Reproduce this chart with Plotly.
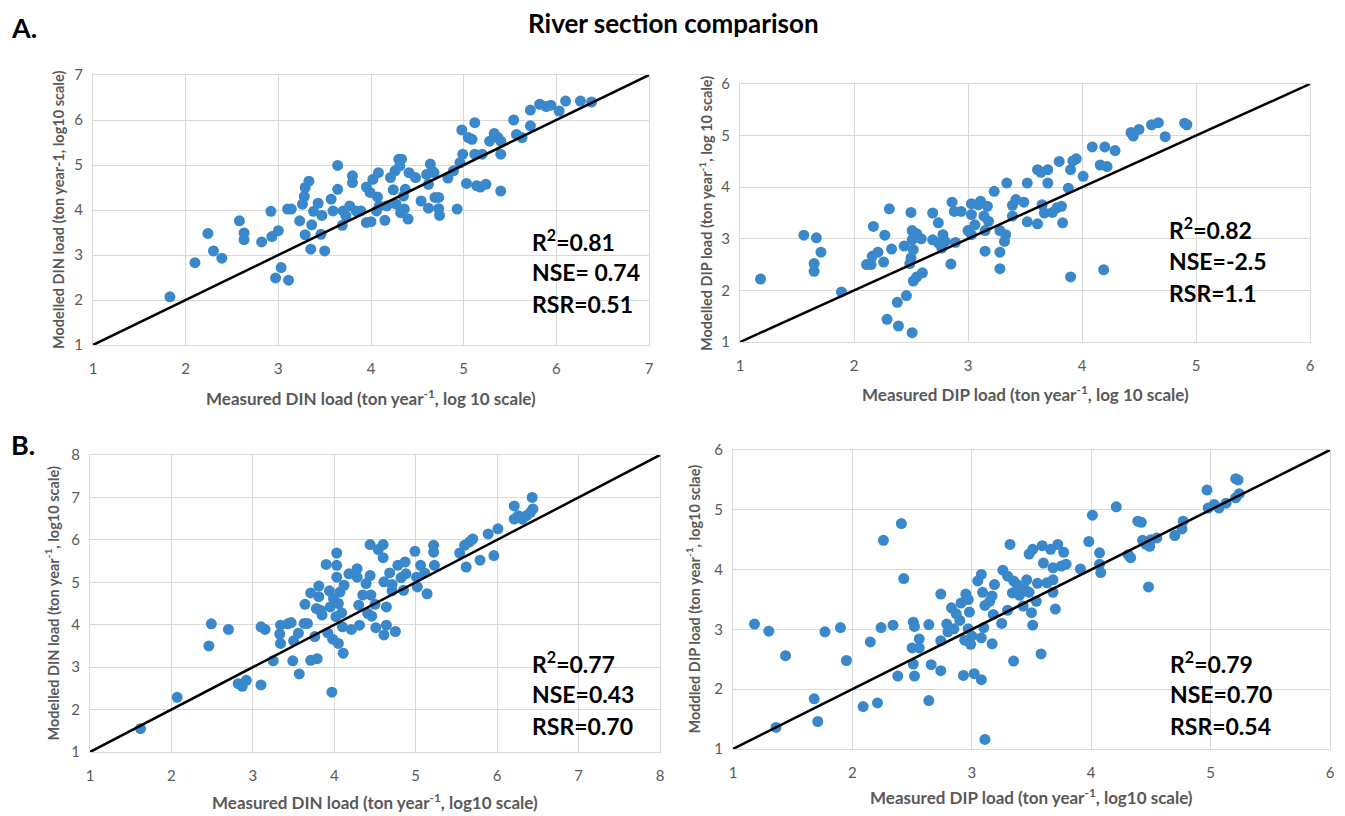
import plotly.graph_objects as go

# page body adds an 8 px offset; figure is sized so the visible window matches
OFF = 8
W, H = 1345 - OFF, 816 - OFF

# ---------------- data ----------------
a_din_meas = [1.83, 2.10, 2.24, 2.30, 2.39, 2.58, 2.63, 2.63, 2.82, 2.92, 2.93, 3.00, 2.97, 3.03, 3.11,
              3.10, 3.14, 3.23, 3.26, 3.28, 3.29, 3.33, 3.29, 3.35, 3.36, 3.38, 3.43, 3.46, 3.47, 3.50,
              3.57, 3.59, 3.64, 3.64, 3.69, 3.70, 3.73, 3.77, 3.80, 3.80, 3.84, 3.89, 3.95, 3.95, 3.99,
              4.00, 4.02, 4.07, 4.08, 4.09, 4.06, 4.15, 4.17, 4.21, 4.24, 4.26, 4.27, 4.30, 4.33, 4.31,
              4.32, 4.35, 4.36, 4.37, 4.40, 4.41, 4.48, 4.54, 4.60, 4.62, 4.62, 4.64, 4.66, 4.68, 4.69,
              4.73, 4.73, 4.74, 4.83, 4.89, 4.93, 4.96, 4.99, 4.98, 5.03, 5.05, 5.09, 5.12, 5.12, 5.14,
              5.18, 5.20, 5.24, 5.28, 5.33, 5.37, 5.40, 5.40, 5.40, 5.54, 5.57, 5.63, 5.72, 5.72, 5.82,
              5.89, 5.94, 6.03, 6.10, 6.26, 6.38]
a_din_mod = [2.07, 2.83, 3.48, 3.09, 2.93, 3.76, 3.49, 3.34, 3.29, 3.97, 3.41, 3.54, 2.49, 2.72, 2.44,
             4.02, 4.02, 3.76, 4.13, 4.30, 4.50, 4.64, 3.45, 3.13, 3.67, 3.97, 4.15, 3.46, 3.88, 3.09,
             4.24, 3.98, 4.99, 4.46, 3.66, 3.98, 3.87, 4.09, 4.61, 4.76, 3.98, 3.98, 4.51, 3.72, 4.39,
             3.74, 4.68, 4.29, 4.83, 4.09, 3.98, 3.77, 4.09, 4.72, 4.45, 4.87, 4.13, 5.13, 5.13, 4.98,
             3.94, 4.31, 4.02, 4.46, 3.80, 4.83, 4.72, 4.20, 4.79, 4.57, 4.04, 5.02, 4.87, 4.83, 4.28,
             4.28, 4.03, 3.88, 4.71, 4.87, 4.02, 5.05, 5.24, 5.78, 4.59, 5.61, 5.57, 5.94, 5.24, 4.54,
             4.51, 5.24, 4.57, 5.53, 5.70, 5.61, 5.53, 5.24, 4.42, 6.00, 5.68, 5.61, 6.22, 5.87, 6.35,
             6.30, 6.33, 6.20, 6.42, 6.42, 6.40]

a_dip_meas = [1.18, 1.56, 1.67, 1.65, 1.65, 1.71, 1.89, 2.11, 2.15, 2.16, 2.17, 2.21, 2.26, 2.27, 2.29,
              2.31, 2.33, 2.39, 2.38, 2.44, 2.46, 2.50, 2.51, 2.51, 2.52, 2.50, 2.49, 2.51, 2.52, 2.55,
              2.60, 2.55, 2.59, 2.69, 2.69, 2.74, 2.74, 2.77, 2.78, 2.80, 2.85, 2.86, 2.88, 2.89, 2.94,
              3.00, 3.03, 3.03, 3.03, 3.06, 3.09, 3.11, 3.14, 3.15, 3.15, 3.17, 3.18, 3.23, 3.28, 3.28,
              3.28, 3.32, 3.33, 3.34, 3.39, 3.39, 3.42, 3.49, 3.52, 3.52, 3.61, 3.61, 3.64, 3.65, 3.67,
              3.70, 3.70, 3.74, 3.78, 3.80, 3.82, 3.83, 3.88, 3.90, 3.90, 3.92, 3.95, 4.01, 4.09, 4.16,
              4.20, 4.19, 4.22, 4.29, 4.43, 4.45, 4.50, 4.61, 4.67, 4.73, 4.90, 4.92]
a_dip_mod = [2.22, 3.07, 3.02, 2.52, 2.37, 2.74, 1.97, 2.50, 2.50, 2.66, 3.24, 2.74, 2.55, 3.07, 1.44,
             3.58, 2.80, 1.31, 1.77, 2.86, 1.90, 3.51, 3.16, 2.98, 2.79, 2.63, 2.52, 1.18, 2.18, 2.26,
             2.34, 3.10, 3.00, 3.50, 2.98, 3.31, 2.92, 2.82, 3.08, 2.95, 2.51, 3.71, 3.53, 2.93, 3.53,
             3.16, 3.68, 3.47, 3.08, 3.27, 3.66, 3.73, 3.44, 2.76, 3.16, 3.63, 3.34, 3.92, 3.16, 2.74,
             2.42, 2.95, 3.08, 4.08, 3.44, 3.65, 3.76, 3.71, 4.08, 3.33, 4.34, 3.29, 4.29, 3.66, 3.50,
             4.34, 4.08, 3.51, 3.60, 4.50, 3.63, 3.31, 3.98, 2.26, 4.34, 4.51, 4.55, 4.21, 4.78, 4.43,
             4.78, 2.40, 4.40, 4.71, 5.06, 4.99, 5.12, 5.21, 5.25, 4.98, 5.24, 5.21]

b_din_meas = [1.62, 2.07, 2.46, 2.49, 2.70, 2.82, 2.87, 2.92, 3.10, 3.10, 3.15, 3.25, 3.33, 3.34, 3.34,
              3.43, 3.47, 3.49, 3.50, 3.57, 3.56, 3.64, 3.63, 3.67, 3.71, 3.71, 3.76, 3.78, 3.79, 3.81,
              3.81, 3.83, 3.85, 3.90, 3.92, 3.94, 3.95, 3.97, 3.98, 3.99, 4.02, 4.03, 4.03, 4.03, 4.05,
              4.05, 4.07, 4.09, 4.11, 4.10, 4.12, 4.18, 4.21, 4.28, 4.28, 4.30, 4.31, 4.35, 4.39, 4.41,
              4.44, 4.44, 4.45, 4.46, 4.51, 4.50, 4.54, 4.60, 4.60, 4.61, 4.61, 4.64, 4.64, 4.68, 4.71,
              4.71, 4.75, 4.78, 4.82, 4.85, 4.87, 4.88, 4.99, 5.01, 5.02, 5.06, 5.11, 5.14, 5.22, 5.22,
              5.23, 5.54, 5.60, 5.62, 5.66, 5.70, 5.79, 5.89, 5.96, 6.01, 6.21, 6.21, 6.26, 6.31, 6.36,
              6.41, 6.43, 6.44]
b_din_mod = [1.55, 2.29, 3.50, 4.02, 3.89, 2.61, 2.55, 2.69, 2.58, 3.95, 3.89, 3.15, 3.78, 3.99, 3.56,
             4.02, 4.05, 3.15, 3.62, 2.84, 3.80, 4.48, 4.03, 4.03, 4.75, 3.16, 3.72, 4.38, 3.20, 4.91,
             4.66, 4.34, 4.23, 5.42, 3.81, 4.80, 4.42, 2.41, 3.66, 4.62, 4.19, 5.69, 5.40, 5.12, 4.50,
             3.56, 4.77, 4.28, 3.33, 3.95, 4.93, 5.20, 3.89, 5.32, 5.12, 4.46, 3.99, 4.70, 4.97, 4.27,
             5.89, 5.16, 4.70, 4.20, 3.93, 4.48, 5.77, 5.89, 5.58, 5.01, 3.76, 4.42, 3.99, 5.22, 4.95,
             4.80, 3.84, 5.40, 5.11, 4.81, 5.48, 5.20, 5.73, 5.12, 4.89, 5.40, 5.22, 4.73, 5.87, 5.71,
             5.40, 5.69, 5.87, 5.36, 5.95, 6.02, 5.52, 6.14, 5.63, 6.26, 6.80, 6.49, 6.57, 6.49, 6.57,
             6.65, 7.00, 6.73]

b_dip_meas = [1.18, 1.30, 1.36, 1.44, 1.68, 1.71, 1.77, 1.90, 1.95, 2.09, 2.15, 2.21, 2.24, 2.26, 2.34,
              2.38, 2.41, 2.43, 2.50, 2.51, 2.51, 2.52, 2.52, 2.56, 2.56, 2.64, 2.64, 2.66, 2.74, 2.74,
              2.74, 2.79, 2.80, 2.83, 2.85, 2.87, 2.90, 2.91, 2.93, 2.94, 2.95, 2.97, 2.97, 2.98, 2.99,
              3.00, 3.02, 3.05, 3.08, 3.08, 3.08, 3.09, 3.10, 3.11, 3.11, 3.15, 3.17, 3.17, 3.18, 3.19,
              3.25, 3.26, 3.30, 3.30, 3.32, 3.34, 3.35, 3.35, 3.38, 3.40, 3.43, 3.44, 3.46, 3.48, 3.48,
              3.50, 3.51, 3.51, 3.54, 3.55, 3.58, 3.59, 3.60, 3.63, 3.66, 3.68, 3.68, 3.68, 3.70, 3.72,
              3.75, 3.77, 3.79, 3.91, 3.98, 4.01, 4.07, 4.07, 4.08, 4.21, 4.31, 4.33, 4.39, 4.42, 4.43,
              4.46, 4.48, 4.49, 4.50, 4.55, 4.70, 4.76, 4.77, 4.97, 4.98, 5.03, 5.07, 5.13, 5.21, 5.21,
              5.23, 5.24]
b_dip_mod = [3.09, 2.97, 1.36, 2.56, 1.84, 1.46, 2.96, 3.03, 2.48, 1.71, 2.79, 1.77, 3.03, 4.49, 3.07,
             2.22, 4.77, 3.85, 2.69, 3.12, 2.42, 2.22, 3.05, 2.84, 2.69, 3.08, 1.81, 2.41, 2.81, 3.59,
             2.31, 3.09, 2.96, 3.36, 3.01, 3.26, 3.15, 3.44, 2.23, 2.82, 3.59, 3.50, 3.01, 3.29, 2.75,
             2.89, 2.26, 3.81, 3.92, 2.16, 2.86, 3.62, 3.03, 1.16, 3.40, 3.47, 3.56, 2.76, 3.25, 3.75,
             3.10, 3.99, 3.89, 3.32, 4.42, 3.61, 3.81, 2.47, 3.75, 3.57, 3.39, 3.68, 3.83, 4.26, 3.62,
             3.28, 4.34, 3.07, 3.47, 3.77, 2.59, 4.40, 4.11, 3.78, 4.34, 4.03, 3.62, 3.83, 3.34, 4.42,
             4.06, 4.29, 4.09, 4.01, 4.47, 4.91, 4.28, 4.09, 3.95, 5.05, 4.25, 4.20, 4.81, 4.79, 4.49,
             4.42, 3.71, 4.39, 4.50, 4.53, 4.57, 4.68, 4.81, 5.33, 5.03, 5.09, 5.03, 5.11, 5.20, 5.52,
             5.50, 5.27]

panels = [
    dict(xm=a_din_meas, ym=a_din_mod, rng=[1, 7], box=(93, 649, 75, 345),
         xt="Measured DIN load (ton year<sup>-1</sup>, log 10 scale)", xty=397,
         yt="Modelled DIN load (ton year-1, log10 scale)", ytx=58,
         stats=["R<sup>2</sup>=0.81", "NSE= 0.74", "RSR=0.51"], sx=530, sy=[240, 272, 304]),
    dict(xm=a_dip_meas, ym=a_dip_mod, rng=[1, 6], box=(740, 1310, 84, 342),
         xt="Measured DIP load (ton year<sup>-1</sup>, log 10 scale)", xty=393,
         yt="Modelled DIP load (ton year<sup>-1</sup>, log 10 scale)", ytx=705,
         stats=["R<sup>2</sup>=0.82", "NSE=-2.5", "RSR=1.1"], sx=1167, sy=[228, 261, 293]),
    dict(xm=b_din_meas, ym=b_din_mod, rng=[1, 8], box=(90, 660, 455, 752),
         xt="Measured DIN load (ton year<sup>-1</sup>, log10 scale)", xty=801,
         yt="Modelled DIN load (ton year<sup>-1</sup>, log10 scale)", ytx=52,
         stats=["R<sup>2</sup>=0.77", "NSE=0.43", "RSR=0.70"], sx=530, sy=[662, 694, 726]),
    dict(xm=b_dip_meas, ym=b_dip_mod, rng=[1, 6], box=(733, 1330, 450, 749),
         xt="Measured DIP load (ton year<sup>-1</sup>, log10 scale)", xty=796,
         yt="Moddled DIP load (ton year<sup>-1</sup>, log10 sclae)", ytx=693,
         stats=["R<sup>2</sup>=0.79", "NSE=0.70", "RSR=0.54"], sx=1168, sy=[662, 694, 726]),
]

def px(x):
    return (x - OFF) / W

def py(y):
    return 1 - (y - OFF) / H

fig = go.Figure()
annotations = []
grey = "#595959"
font_family = "Lato, Open Sans, sans-serif"

for i, p in enumerate(panels, start=1):
    xa = "x" if i == 1 else f"x{i}"
    ya = "y" if i == 1 else f"y{i}"
    fig.add_trace(go.Scatter(x=p["xm"], y=p["ym"], mode="markers", xaxis=xa, yaxis=ya,
                             marker=dict(color="#3a88cc", size=11, line=dict(width=0)),
                             showlegend=False, cliponaxis=False))
    fig.add_trace(go.Scatter(x=p["rng"], y=p["rng"], mode="lines", xaxis=xa, yaxis=ya,
                             line=dict(color="black", width=2.5), showlegend=False))
    x0, x1, y0, y1 = p["box"]
    axcommon = dict(range=p["rng"], dtick=1, showgrid=True, gridcolor="#d9d9d9", gridwidth=1.3,
                    zeroline=False, showline=True, linecolor="#d9d9d9", linewidth=1.3, mirror=True,
                    ticks="", automargin=False,
                    tickfont=dict(size=15, color=grey, family=font_family), fixedrange=True)
    kx = "xaxis" if i == 1 else f"xaxis{i}"
    ky = "yaxis" if i == 1 else f"yaxis{i}"
    fig.layout[kx] = dict(domain=[px(x0), px(x1)], anchor=ya, ticklabelstandoff=10, **axcommon)
    fig.layout[ky] = dict(domain=[py(y1), py(y0)], anchor=xa, ticklabelstandoff=6, **axcommon)
    annotations.append(dict(x=px((x0 + x1) / 2), y=py(p["xty"]), xref="paper", yref="paper",
                            text=p["xt"], showarrow=False, xanchor="center", yanchor="middle",
                            font=dict(size=17, color=grey, family=font_family, weight="bold")))
    annotations.append(dict(x=px(p["ytx"]), y=py((y0 + y1) / 2), xref="paper", yref="paper",
                            text=p["yt"], showarrow=False, textangle=-90, xanchor="center",
                            yanchor="middle",
                            font=dict(size=14.5, color=grey, family=font_family, weight="bold")))
    for t, yy in zip(p["stats"], p["sy"]):
        annotations.append(dict(x=px(p["sx"]), y=py(yy), xref="paper", yref="paper", text=t,
                                showarrow=False, xanchor="left", yanchor="middle",
                                font=dict(size=23, color="black", family=font_family, weight="bold")))

annotations.append(dict(x=px(673), y=py(23), xref="paper", yref="paper",
                        text="River section comparison", showarrow=False,
                        xanchor="center", yanchor="middle",
                        font=dict(size=26, color="black", family=font_family, weight="bold")))
annotations.append(dict(x=px(9), y=py(27), xref="paper", yref="paper", text="A.",
                        showarrow=False, xanchor="left", yanchor="middle",
                        font=dict(size=27, color="black", family=font_family, weight="bold")))
annotations.append(dict(x=px(9), y=py(444), xref="paper", yref="paper", text="B.",
                        showarrow=False, xanchor="left", yanchor="middle",
                        font=dict(size=27, color="black", family=font_family, weight="bold")))

fig.update_layout(width=W, height=H, margin=dict(l=0, r=0, t=0, b=0, pad=0),
                  paper_bgcolor="white", plot_bgcolor="white", annotations=annotations,
                  font=dict(family=font_family))

fig.write_html("out.html")
